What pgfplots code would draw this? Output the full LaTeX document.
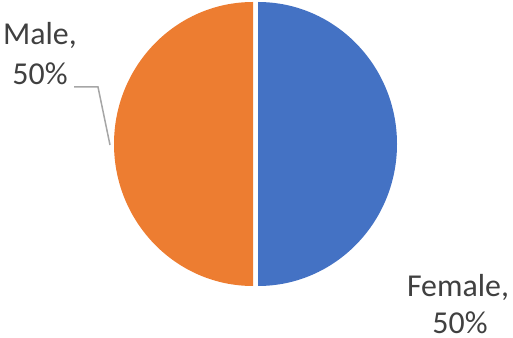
\documentclass[border=0pt]{standalone}
\usepackage{pgfplots}
\pgfplotsset{compat=1.18}
\usepackage{pgfplotstable}
\usepackage{fontspec}
\setmainfont{Carlito}
\definecolor{cblue}{HTML}{4472C4}
\definecolor{corange}{HTML}{ED7D31}
\definecolor{ctext}{HTML}{404040}
\definecolor{cline}{HTML}{A6A6A6}
\pgfplotstableread{
label value
Female 50
Male 50
}\piedata
\begin{document}
\begin{tikzpicture}
\pgfplotstablegetelem{0}{value}\of\piedata \let\vA\pgfplotsretval
\pgfplotstablegetelem{1}{value}\of\piedata \let\vB\pgfplotsretval
\pgfmathsetmacro{\tot}{\vA+\vB}
\pgfmathsetmacro{\aS}{90}
\pgfmathsetmacro{\aE}{90-360*(\vA/\tot)}
\pgfmathsetmacro{\bS}{\aE}
\pgfmathsetmacro{\bE}{\bS-360*(\vB/\tot)}
\pgfmathsetmacro{\aM}{(\aS+\aE)/2}
\pgfmathsetmacro{\bM}{(\bS+\bE)/2}
\pgfmathsetmacro{\axc}{255.5+2.5*cos(\aM)}
\pgfmathsetmacro{\ayc}{194+2.5*sin(\aM)}
\pgfmathsetmacro{\bxc}{255.5+2.5*cos(\bM)}
\pgfmathsetmacro{\byc}{194+2.5*sin(\bM)}
\begin{axis}[
  scale only axis, width=513bp, height=338bp,
  xmin=0, xmax=513, ymin=0, ymax=338,
  hide axis, clip=false,
]
\fill[cblue] (axis cs:\axc,\ayc) -- ++(\aS:139bp and 142bp)
  arc[start angle=\aS, end angle=\aE, x radius=139bp, y radius=142bp] -- cycle;
\fill[corange] (axis cs:\bxc,\byc) -- ++(\bS:139bp and 142bp)
  arc[start angle=\bS, end angle=\bE, x radius=139bp, y radius=142bp] -- cycle;
\addplot[cline, line width=1.5bp] coordinates {(74,251) (98,251) (110,193)};
\node[anchor=base, text=ctext, font=\fontsize{32}{40}\selectfont, inner sep=0pt] at (axis cs:40,293) {Male,};
\node[anchor=base, text=ctext, font=\fontsize{32}{40}\selectfont, inner sep=0pt] at (axis cs:40,253) {50\%};
\node[anchor=base, text=ctext, font=\fontsize{32}{40}\selectfont, inner sep=0pt] at (axis cs:458,42) {Female,};
\node[anchor=base, text=ctext, font=\fontsize{32}{40}\selectfont, inner sep=0pt] at (axis cs:460,5) {50\%};
\end{axis}
\pgfresetboundingbox
\path[use as bounding box] (current axis.south west) rectangle (current axis.north east);
\end{tikzpicture}
\end{document}
